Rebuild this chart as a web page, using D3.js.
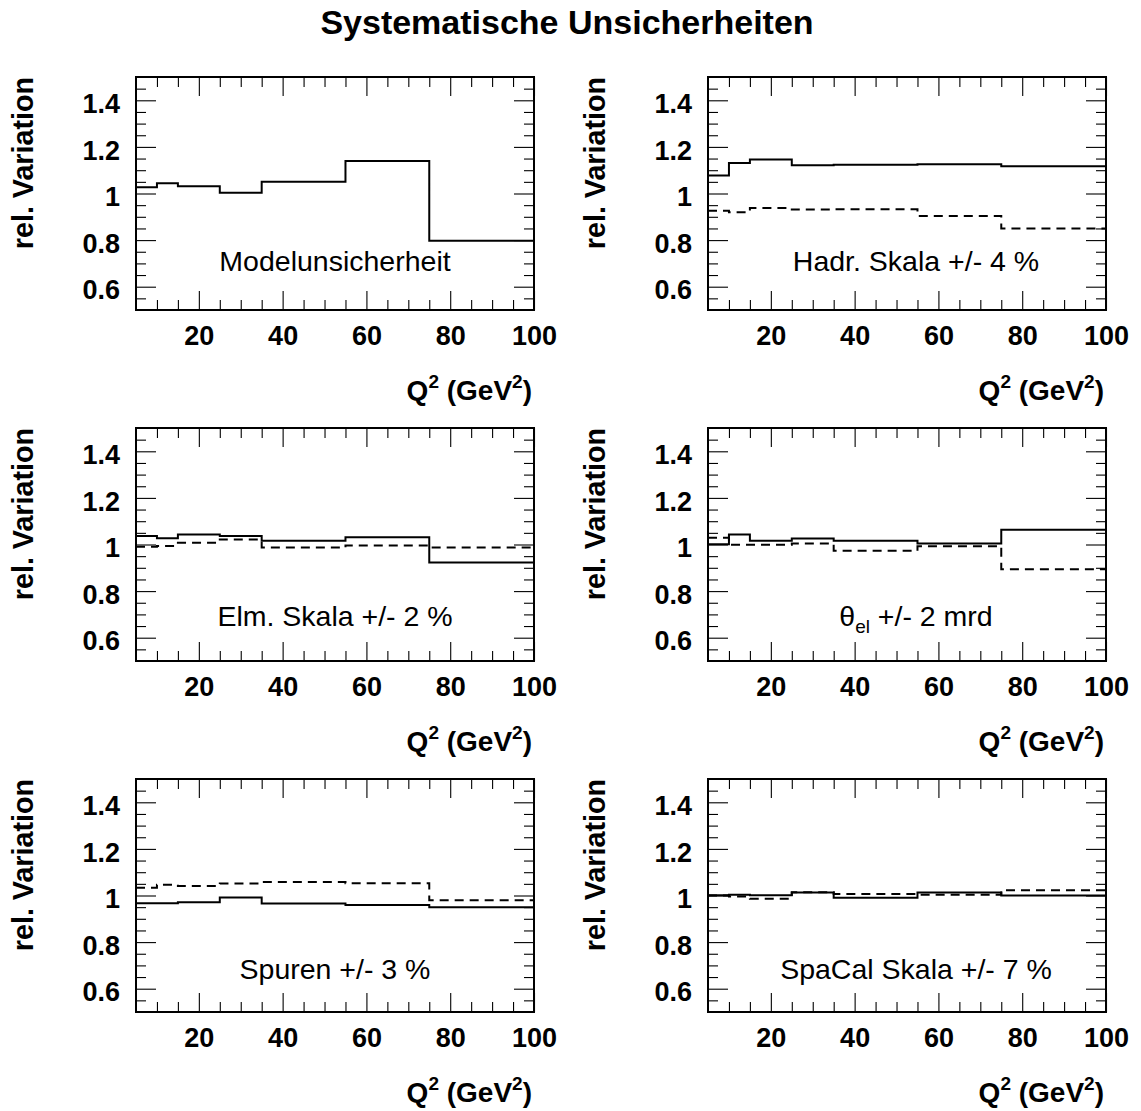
<!DOCTYPE html>
<html>
<head>
<meta charset="utf-8">
<script src="https://cdn.jsdelivr.net/npm/d3@7"></script>
<style>
  html, body { margin: 0; padding: 0; background: #fff; }
  text { font-family: "Liberation Sans", Arial, Helvetica, sans-serif; fill: #000; }
</style>
</head>
<body>
<svg id="chart" width="1141" height="1111"></svg>
<script>
// ---------------- data ----------------
const chartTitle = "Systematische Unsicherheiten";
const binEdges = [5, 10, 15, 25, 35, 55, 75, 100];
const xTickLabels = [20, 40, 60, 80, 100];
const yTickLabels = [0.6, 0.8, 1.0, 1.2, 1.4];
const yTitle = "rel. Variation";

const modelSolid  = [1.027, 1.044, 1.031, 1.003, 1.050, 1.140, 0.797];
const hadrSolid   = [1.077, 1.131, 1.146, 1.121, 1.123, 1.126, 1.117];
const hadrDashed  = [0.926, 0.920, 0.938, 0.931, 0.932, 0.903, 0.850];
const elmSolid    = [1.037, 1.027, 1.043, 1.037, 1.016, 1.031, 0.923];
const elmDashed   = [0.990, 0.994, 1.007, 1.021, 0.987, 0.996, 0.987];
const thetaSolid  = [1.001, 1.043, 1.016, 1.026, 1.016, 1.004, 1.063];
const thetaDashed = [1.029, 0.999, 0.999, 1.004, 0.973, 0.993, 0.894];
const spurSolid   = [0.967, 0.967, 0.971, 0.991, 0.966, 0.959, 0.950];
const spurDashed  = [1.033, 1.046, 1.041, 1.051, 1.058, 1.053, 0.980];
const spaSolid    = [1.001, 1.003, 1.001, 1.013, 0.990, 1.013, 1.000];
const spaDashed   = [1.000, 0.996, 0.986, 1.014, 1.006, 1.003, 1.023];

const panelLabels = ["Modelunsicherheit", "Hadr. Skala +/- 4 %", "Elm. Skala +/- 2 %",
                     "θel +/- 2 mrd", "Spuren +/- 3 %", "SpaCal Skala +/- 7 %"];
const panelSolid  = [modelSolid, hadrSolid, elmSolid, thetaSolid, spurSolid, spaSolid];
const panelDashed = [null, hadrDashed, elmDashed, thetaDashed, spurDashed, spaDashed];

// ---------------- layout ----------------
const svg = d3.select("#chart");
const FONT = '"Liberation Sans", Arial, Helvetica, sans-serif';
const colX = [136, 708];
const rowY = [77, 428, 779];
const W = 398, H = 233;
const labelBaseOffset = [39, 35, 33];

svg.append("text")
  .attr("x", 567).attr("y", 34)
  .attr("text-anchor", "middle")
  .style("font-size", "34px").style("font-weight", "bold")
  .text(chartTitle);

const x = d3.scaleLinear().domain([5, 100]).range([0, W]);
const y = d3.scaleLinear().domain([0.5, 1.5]).range([H, 0]);

const xMinor = d3.range(10, 100, 5).filter(v => v % 20 !== 0);
const yMinor = d3.range(0.55, 1.5, 0.05).map(v => +v.toFixed(2))
  .filter(v => !yTickLabels.some(t => Math.abs(t - v) < 1e-6));

function styleAxis(g) {
  g.select(".domain").remove();
  g.selectAll(".tick line").attr("stroke", "#000").attr("stroke-width", 1.1);
}

const line = d3.line()
  .x(d => x(d[0]))
  .y(d => y(d[1]))
  .curve(d3.curveStepAfter);

function histPoints(vals) {
  const pts = vals.map((v, i) => [binEdges[i], v]);
  pts.push([binEdges[binEdges.length - 1], vals[vals.length - 1]]);
  return pts;
}

panelLabels.forEach((lab, i) => {
  const col = i % 2, row = Math.floor(i / 2);
  const g = svg.append("g").attr("transform", `translate(${colX[col]},${rowY[row]})`);

  // minor ticks
  g.append("g").attr("transform", `translate(0,${H})`)
    .call(d3.axisBottom(x).tickValues(xMinor).tickSize(-10).tickFormat(""))
    .call(styleAxis);
  g.append("g")
    .call(d3.axisTop(x).tickValues(xMinor).tickSize(-10).tickFormat(""))
    .call(styleAxis);
  g.append("g")
    .call(d3.axisLeft(y).tickValues(yMinor).tickSize(-10).tickFormat(""))
    .call(styleAxis);
  g.append("g").attr("transform", `translate(${W},0)`)
    .call(d3.axisRight(y).tickValues(yMinor).tickSize(-10).tickFormat(""))
    .call(styleAxis);

  // major ticks with labels
  const xb = g.append("g").attr("transform", `translate(0,${H})`)
    .call(d3.axisBottom(x).tickValues(xTickLabels).tickSize(-19).tickPadding(16).tickFormat(d3.format("d")))
    .call(styleAxis);
  xb.selectAll("text").style("font-size", "27px").style("font-weight", "bold").style("font-family", FONT);
  g.append("g")
    .call(d3.axisTop(x).tickValues(xTickLabels).tickSize(-19).tickFormat(""))
    .call(styleAxis);
  const yl = g.append("g")
    .call(d3.axisLeft(y).tickValues(yTickLabels).tickSize(-20).tickPadding(16).tickFormat(d3.format("~g")))
    .call(styleAxis);
  yl.selectAll("text").attr("dy", "0.45em").style("font-size", "27px").style("font-weight", "bold").style("font-family", FONT);
  g.append("g").attr("transform", `translate(${W},0)`)
    .call(d3.axisRight(y).tickValues(yTickLabels).tickSize(-20).tickFormat(""))
    .call(styleAxis);

  // histograms
  g.append("path").datum(histPoints(panelSolid[i]))
    .attr("d", line).attr("fill", "none").attr("stroke", "#000").attr("stroke-width", 2);
  if (panelDashed[i]) {
    g.append("path").datum(histPoints(panelDashed[i]))
      .attr("d", line).attr("fill", "none").attr("stroke", "#000").attr("stroke-width", 2)
      .attr("stroke-dasharray", "9,6");
  }

  // frame
  g.append("rect").attr("x", 0).attr("y", 0).attr("width", W).attr("height", H)
    .attr("fill", "none").attr("stroke", "#000").attr("stroke-width", 2);

  // panel label
  const lx = W / 2 + (col === 1 ? 9 : 0);
  const ly = H - labelBaseOffset[row];
  const t = g.append("text").attr("x", lx).attr("y", ly).attr("text-anchor", "middle")
    .style("font-size", "28.5px");
  if (lab.startsWith("θel")) {
    t.append("tspan").text("θ");
    t.append("tspan").attr("dy", 7).style("font-size", "19px").text("el");
    t.append("tspan").attr("dy", -7).text(lab.slice(3));
  } else {
    t.text(lab);
  }

  // y title
  g.append("text")
    .attr("transform", `translate(${-103},0) rotate(-90)`)
    .attr("text-anchor", "end")
    .style("font-size", "28.7px").style("font-weight", "bold")
    .text(yTitle);

  // x title
  const xt = g.append("text").attr("x", W - 2).attr("y", H + 90).attr("text-anchor", "end")
    .style("font-size", "28px").style("font-weight", "bold");
  xt.append("tspan").text("Q");
  xt.append("tspan").attr("dy", -12).style("font-size", "19px").text("2");
  xt.append("tspan").attr("dy", 12).text(" (GeV");
  xt.append("tspan").attr("dy", -12).style("font-size", "19px").text("2");
  xt.append("tspan").attr("dy", 12).text(")");
});
</script>
</body>
</html>
